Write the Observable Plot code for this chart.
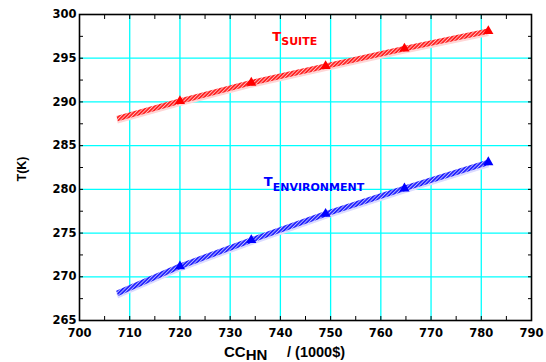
<!DOCTYPE html>
<html>
<head>
<meta charset="utf-8">
<script src="https://cdn.jsdelivr.net/npm/d3@7"></script>
<script src="https://cdn.jsdelivr.net/npm/@observablehq/plot@0.6"></script>
<style>
  html, body { margin: 0; padding: 0; background: #fff; }
  #chart svg { display: block; }
</style>
</head>
<body>
<div id="chart"></div>
<script>
// Capital cost of the heat-exchanger network vs. temperatures
const ccHN   = [707.5, 720.0, 734.2, 749.0, 764.7, 781.4];   // CC_HN, 1000$
const tSuite = [288.1, 290.1, 292.2, 294.1, 296.1, 298.1];   // T_SUITE, K
const tEnv   = [268.1, 271.2, 274.2, 277.2, 280.1, 283.1];   // T_ENVIRONMENT, K

const xTicks = [700, 710, 720, 730, 740, 750, 760, 770, 780, 790];
const yTicks = [265, 270, 275, 280, 285, 290, 295, 300];

// series labels: [text, subscript, x, y, colour] in data units
const seriesLabels = [
  ["T", "SUITE", 738.5, 296.95, "#ff0000"],
  ["T", "ENVIRONMENT", 736.8, 280.3, "#0000ff"]
];

const suite = ccHN.map((x, i) => ({x, y: tSuite[i]}));
const env = ccHN.map((x, i) => ({x, y: tEnv[i]}));

const grid = {stroke: "#00ffff", strokeOpacity: 1, strokeWidth: 1.3};
const noText = () => "";

const plot = Plot.plot({
  width: 546,
  height: 362,
  marginLeft: 79,
  marginRight: 15,
  marginTop: 14,
  marginBottom: 42,
  style: {fontFamily: "'DejaVu Sans', sans-serif", fontWeight: "bold", background: "#fff", color: "#000"},
  x: {domain: [700, 790]},
  y: {domain: [265, 300]},
  marks: [
    Plot.gridX(xTicks.slice(1, -1), grid),
    Plot.gridY(yTicks.slice(1, -1), grid),
    // soft shadows under the hatched bands
    Plot.line(suite, {x: "x", y: "y", stroke: "#ffd6d6", strokeWidth: 5, dy: 2.5, strokeLinecap: "butt"}),
    Plot.line(env, {x: "x", y: "y", stroke: "#dcdcff", strokeWidth: 5, dy: 2.5, strokeLinecap: "butt"}),
    Plot.line(suite, {x: "x", y: "y", stroke: "url(#hatch-red)", strokeWidth: 5.5, strokeLinecap: "butt"}),
    Plot.line(env, {x: "x", y: "y", stroke: "url(#hatch-blue)", strokeWidth: 5.5, strokeLinecap: "butt"}),
    Plot.dot(suite.slice(1), {x: "x", y: "y", symbol: "triangle", fill: "#ff0000", r: 3.8}),
    Plot.dot(env.slice(1), {x: "x", y: "y", symbol: "triangle", fill: "#0000ff", r: 3.8}),
    // inward ticks on all four sides
    Plot.axisX({anchor: "bottom", ticks: d3.range(700, 791, 5), tickSize: -4, tickFormat: noText, label: null}),
    Plot.axisX({anchor: "top", ticks: d3.range(700, 791, 5), tickSize: -4, tickFormat: noText, label: null}),
    Plot.axisY({anchor: "left", ticks: d3.range(265, 300.1, 2.5), tickSize: -4, tickFormat: noText, label: null}),
    Plot.axisY({anchor: "right", ticks: d3.range(265, 300.1, 2.5), tickSize: -4, tickFormat: noText, label: null}),
    // tick labels
    Plot.axisX({anchor: "bottom", ticks: xTicks, tickSize: 0, tickPadding: 8, fontSize: 11.5, label: null}),
    Plot.axisY({anchor: "left", ticks: yTicks, tickSize: 0, tickPadding: 3, fontSize: 11.5, label: null}),
    Plot.frame({stroke: "#000", strokeWidth: 1.6})
  ]
});

const svg = d3.select(plot);

// hatch fills for the thick series bands
const defs = svg.insert("defs", ":first-child");
[["hatch-red", "#ff2020"], ["hatch-blue", "#2020ff"]].forEach(([id, c]) => {
  const p = defs.append("pattern")
    .attr("id", id).attr("patternUnits", "userSpaceOnUse")
    .attr("width", 2.6).attr("height", 2.6)
    .attr("patternTransform", "rotate(45)");
  p.append("rect").attr("width", 2.6).attr("height", 2.6).attr("fill", c);
  p.append("rect").attr("width", 0.9).attr("height", 2.6).attr("fill", "#fff").attr("fill-opacity", 0.7);
});

const sx = plot.scale("x"), sy = plot.scale("y");

// T_SUITE / T_ENVIRONMENT labels with subscripts
for (const [main, sub, x, y, color] of seriesLabels) {
  const t = svg.append("text")
    .attr("x", sx.apply(x)).attr("y", sy.apply(y))
    .attr("text-anchor", "start")
    .attr("fill", color)
    .style("font-family", "'DejaVu Sans', sans-serif")
    .style("font-weight", "bold");
  t.append("tspan").attr("font-size", 13).text(main);
  t.append("tspan").attr("font-size", 11).attr("dy", 4.4).text(sub);
}

// y-axis title
svg.append("text")
  .attr("transform", "translate(26,169) rotate(-90)")
  .attr("text-anchor", "middle")
  .style("font-family", "'Liberation Sans', Arial, sans-serif")
  .style("font-weight", "bold")
  .attr("font-size", 12.5)
  .text("T(K)");

// x-axis title: CC_HN / (1000$)
const xt = svg.append("text")
  .attr("x", 224).attr("y", 356.5)
  .attr("text-anchor", "start")
  .style("font-family", "'Liberation Sans', Arial, sans-serif")
  .style("font-weight", "bold")
  .attr("font-size", 15);
xt.append("tspan").text("CC");
xt.append("tspan").attr("dy", 3).text("HN");
xt.append("tspan").attr("x", 287).attr("dy", -3).attr("font-size", 14.5).text("/ (1000$)");

document.getElementById("chart").appendChild(plot);
</script>
</body>
</html>
